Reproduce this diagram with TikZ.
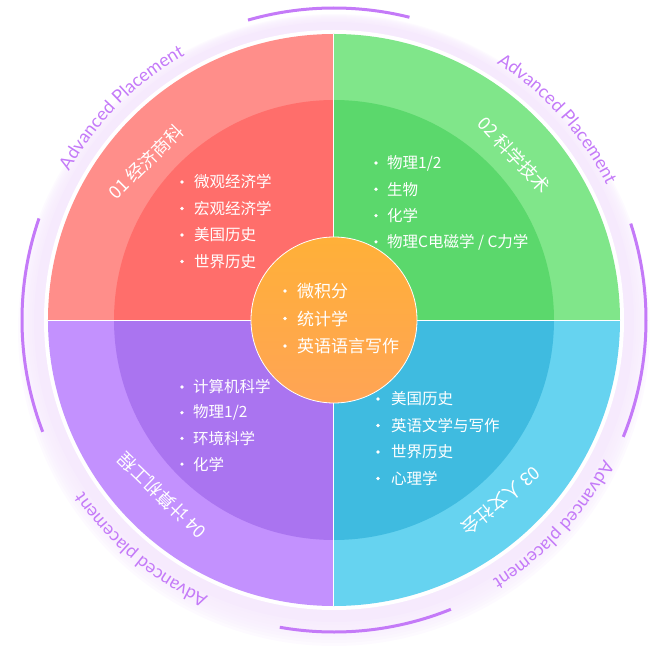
\documentclass[tikz,border=0pt]{standalone}
\usepackage{fontspec}
\setmainfont{Noto Sans CJK SC}
\newfontfamily\apfont{Lato}
\usetikzlibrary{decorations.text}

\definecolor{redA}{HTML}{FF8E8A}
\definecolor{redB}{HTML}{FF6E6B}
\definecolor{grnA}{HTML}{80E68A}
\definecolor{grnB}{HTML}{5BD86C}
\definecolor{cyaA}{HTML}{66D3F0}
\definecolor{cyaB}{HTML}{3FBBE0}
\definecolor{pplA}{HTML}{C391FE}
\definecolor{pplB}{HTML}{AA74F0}
\definecolor{orgA}{HTML}{FFB038}
\definecolor{orgB}{HTML}{FFA455}
\definecolor{apviolet}{HTML}{C47AF8}
\definecolor{halo}{HTML}{F6EAFD}

\begin{document}
\begin{tikzpicture}[x=1pt,y=1pt,
    item/.style={anchor=west,inner sep=0pt,text=white,font=\fontsize{15.5}{16}\selectfont},
    coreitem/.style={item,font=\fontsize{17}{17}\selectfont},
    quad/.style={inner sep=0pt,text=white,font=\fontsize{18}{18}\selectfont},
    rim/.style={draw=apviolet,line width=3pt}]
    \useasboundingbox (-334,-352) rectangle (332,320);

    % halo round the disk
    \foreach \k in {1,...,10}
      \fill[halo,opacity=0.22] (0,-\k) circle[radius={296+2*\k}];
    \fill[halo] (0,-2) circle[radius=300];
    \fill[white] (0,0) circle[radius=290];

    % quadrants
    \foreach \a/\outer/\inner in {0/grnA/grnB,90/redA/redB,180/pplA/pplB,270/cyaA/cyaB}{
      \fill[\outer] (0,0) -- (\a:286) arc[start angle=\a,delta angle=90,radius=286] -- cycle;
      \fill[\inner] (0,0) -- (\a:220) arc[start angle=\a,delta angle=90,radius=220] -- cycle;
    }
    \draw[white,line width=1pt] (-286,0) -- (286,0) (0,-286) -- (0,286);

    % outer arcs
    \draw[rim] (76:312) arc[start angle=76,end angle=106,radius=312];
    \draw[rim] (161:312) arc[start angle=161,end angle=201,radius=312];
    \draw[rim] (260:312) arc[start angle=260,end angle=292,radius=312];
    \draw[rim] (-22:312) arc[start angle=-22,end angle=18,radius=312];

    % Advanced Placement
    \path[decorate,decoration={text along path,text align=center,text color=apviolet,
      text={|\apfont\fontsize{18}{18}\selectfont|Advanced Placement}}]
      (162:304) arc[start angle=162,end angle=108,radius=304];
    \path[decorate,decoration={text along path,text align=center,text color=apviolet,
      text={|\apfont\fontsize{18}{18}\selectfont|Advanced Placement}}]
      (69:304) arc[start angle=69,end angle=15,radius=304];
    \path[decorate,decoration={text along path,text align=center,text color=apviolet,
      text={|\apfont\fontsize{18}{18}\selectfont|Advanced placement}}]
      (-16:304) arc[start angle=-16,end angle=-70,radius=304];
    \path[decorate,decoration={text along path,text align=center,text color=apviolet,
      text={|\apfont\fontsize{18}{18}\selectfont|Advanced placement}}]
      (257:304) arc[start angle=257,end angle=203,radius=304];

    % quadrant titles
    \node[quad,rotate=45] (ecoT) at (-188,158) {01 经济商科};
    \node[quad,rotate=-47] (sciT) at (180,165) {02 科学技术};
    \node[quad,rotate=-141] (humT) at (167,-181) {03 人文社会};
    \node[quad,rotate=136] (engT) at (-172,-176) {04 计算机工程};

    % lists
    \foreach \t [count=\i] in {微观经济学,宏观经济学,美国历史,世界历史}{
      \node[item] (eco\i) at (-140,{138-26.5*(\i-1)}) {\t};
      \fill[white] ([xshift=-12pt]eco\i.west) circle[radius=1.8];
    }
    \foreach \t [count=\i] in {物理1/2,生物,化学,物理C电磁学 / C力学}{
      \node[item] (sci\i) at (53,{157-26.3*(\i-1)}) {\t};
      \fill[white] ([xshift=-11pt]sci\i.west) circle[radius=1.8];
    }
    \foreach \t [count=\i] in {美国历史,英语文学与写作,世界历史,心理学}{
      \node[item] (hum\i) at (57,{-79-26.5*(\i-1)}) {\t};
      \fill[white] ([xshift=-13pt]hum\i.west) circle[radius=1.8];
    }
    \foreach \t [count=\i] in {计算机科学,物理1/2,环境科学,化学}{
      \node[item] (eng\i) at (-141,{-67-25.7*(\i-1)}) {\t};
      \fill[white] ([xshift=-11pt]eng\i.west) circle[radius=1.8];
    }

    % centre
    \node[circle,minimum size=166pt,draw=white,line width=0.8pt,
      top color=orgA,bottom color=orgB] (core) at (0,0) {};
    \foreach \t [count=\i] in {微积分,统计学,英语语言写作}{
      \node[coreitem] (core\i) at (-37,{29-27.5*(\i-1)}) {\t};
      \fill[white] ([xshift=-12pt]core\i.west) circle[radius=1.9];
    }
\end{tikzpicture}
\end{document}
